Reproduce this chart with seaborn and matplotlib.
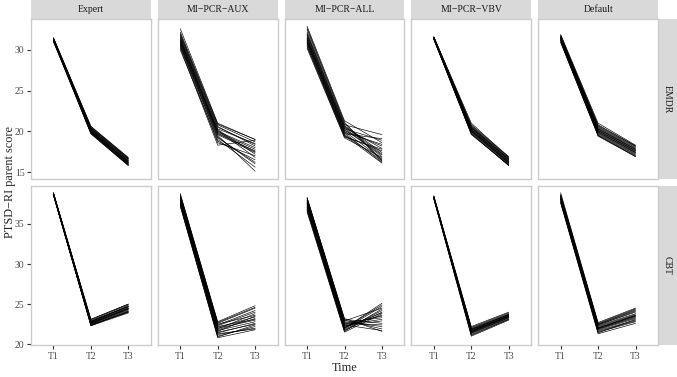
import numpy as np
import pandas as pd
import matplotlib
matplotlib.use("Agg")
import matplotlib.pyplot as plt
from matplotlib.patches import Rectangle
import seaborn as sns

methods = ["Expert", "MI\u2212PCR\u2212AUX", "MI\u2212PCR\u2212ALL", "MI\u2212PCR\u2212VBV", "Default"]
therapies = ["EMDR", "CBT"]
times = ["T1", "T2", "T3"]

# ---- EMDR ----
emdr_expert_t1 = [31.3,31.1,31.4,31.2,31.0,31.5,31.3,31.2,31.1,31.4,31.3,31.2,31.0,31.4,31.3,31.1,31.2,31.5,31.3,31.2]
emdr_expert_t2 = [20.1,19.8,20.4,20.0,19.7,20.6,20.2,19.9,20.3,20.5,20.0,19.8,20.2,20.4,19.9,20.1,20.3,20.6,19.7,20.0]
emdr_expert_t3 = [16.2,15.9,16.6,16.3,15.8,16.8,16.4,16.0,16.5,16.7,16.1,15.9,16.3,16.6,16.0,16.2,16.4,16.7,15.8,16.1]

emdr_aux_t1 = [31.0,30.5,32.6,31.8,30.2,31.5,30.8,31.2,30.0,32.0,31.4,30.6,31.9,30.9,31.1,30.4,32.2,31.6,30.7,31.3]
emdr_aux_t2 = [19.8,19.2,21.0,20.5,18.3,20.2,19.5,20.0,18.8,20.8,19.9,19.0,20.6,19.6,20.1,18.6,20.9,20.3,19.3,19.7]
emdr_aux_t3 = [17.5,16.2,19.0,18.4,18.9,17.2,15.1,18.0,16.5,18.7,17.8,15.6,18.2,17.4,16.8,17.0,19.0,18.5,16.0,17.6]

emdr_all_t1 = [31.5,30.8,32.9,32.2,30.2,31.8,31.0,31.3,30.5,32.5,31.6,30.7,32.0,31.1,31.4,30.4,32.7,31.9,30.9,31.2]
emdr_all_t2 = [20.2,19.6,21.3,20.8,19.2,20.5,19.8,20.1,19.4,21.0,20.3,19.5,20.7,19.9,20.4,19.3,21.1,20.6,19.7,20.0]
emdr_all_t3 = [17.1,16.4,18.6,19.6,16.8,17.9,16.2,18.2,17.6,16.5,18.9,16.1,17.4,18.4,16.9,17.8,16.3,17.2,19.1,16.6]

emdr_vbv_t1 = [31.4,31.5,31.3,31.6,31.4,31.5,31.3,31.4,31.6,31.5,31.4,31.3,31.5,31.4,31.6,31.5,31.3,31.4,31.5,31.4]
emdr_vbv_t2 = [20.0,20.4,19.7,20.8,20.1,20.5,19.6,20.2,21.0,20.6,19.9,19.8,20.3,20.0,20.7,20.4,19.7,20.1,20.5,20.2]
emdr_vbv_t3 = [16.1,16.5,15.8,16.9,16.2,16.6,15.9,16.3,16.8,16.7,16.0,15.9,16.4,16.1,16.8,16.5,15.8,16.2,16.6,16.3]

emdr_default_t1 = [31.5,31.2,31.9,30.9,31.4,31.7,31.0,31.6,31.3,31.8,31.1,31.5,31.4,31.6,31.2,31.7,31.3,31.5,31.0,31.4]
emdr_default_t2 = [20.1,19.7,21.0,19.4,20.3,20.6,19.5,20.4,19.9,20.8,19.6,20.2,20.0,20.5,19.8,20.7,19.9,20.3,19.5,20.1]
emdr_default_t3 = [17.6,17.2,18.3,16.9,17.8,18.1,17.0,17.9,17.4,18.2,17.1,17.7,17.5,18.0,17.3,18.2,17.4,17.8,16.9,17.6]

# ---- CBT ----
cbt_expert_t1 = [38.7,38.6,38.8,38.9,38.7,38.6,38.8,38.7,38.9,38.7,38.6,38.8,38.7,38.8,38.6,38.9,38.7,38.8,38.7,38.6]
cbt_expert_t2 = [22.6,22.3,22.9,23.1,22.7,22.4,22.8,22.5,23.0,22.6,22.3,22.9,22.7,22.8,22.4,23.1,22.5,22.8,22.6,22.4]
cbt_expert_t3 = [24.4,23.9,24.7,25.0,24.5,24.0,24.8,24.2,24.9,24.4,24.1,24.7,24.5,24.6,24.0,25.0,24.3,24.7,24.4,24.1]

cbt_aux_t1 = [38.0,37.5,38.8,38.3,37.2,38.5,37.8,38.1,37.4,38.6,38.2,37.6,38.4,37.9,38.0,37.3,38.7,38.3,37.7,38.1]
cbt_aux_t2 = [21.8,21.2,22.8,22.3,20.8,22.5,21.5,22.0,21.0,22.6,22.1,21.3,22.4,21.7,21.9,20.9,22.7,22.2,21.4,21.6]
cbt_aux_t3 = [23.2,22.0,24.8,24.0,21.8,23.6,22.5,23.0,22.2,24.5,23.4,21.9,24.2,22.8,23.8,22.4,24.6,23.1,22.6,23.5]

cbt_all_t1 = [37.6,36.8,38.3,38.0,36.5,37.9,37.2,37.5,36.9,38.2,37.7,37.0,38.1,37.3,37.6,36.7,38.3,37.8,37.1,37.4]
cbt_all_t2 = [22.4,21.8,23.2,22.9,21.5,22.6,22.0,22.3,21.7,23.0,22.5,21.9,22.8,22.1,22.4,21.6,23.1,22.7,22.0,22.2]
cbt_all_t3 = [23.1,24.2,21.6,24.5,23.8,22.4,25.1,22.9,24.0,21.9,23.5,24.7,22.2,23.9,21.7,24.4,22.6,23.3,24.9,23.6]

cbt_vbv_t1 = [38.3,38.2,38.4,38.5,38.3,38.1,38.4,38.3,38.2,38.5,38.3,38.4,38.2,38.3,38.4,38.1,38.3,38.2,38.4,38.3]
cbt_vbv_t2 = [21.6,21.3,21.9,22.2,21.5,21.0,22.0,21.7,21.4,22.1,21.6,21.8,21.2,21.5,21.9,21.1,21.7,21.4,21.8,21.6]
cbt_vbv_t3 = [23.5,23.2,23.7,24.0,23.4,23.0,23.8,23.5,23.3,23.9,23.5,23.6,23.1,23.4,23.7,23.1,23.6,23.3,23.7,23.5]

cbt_default_t1 = [38.2,37.8,38.6,38.9,38.1,37.6,38.5,38.3,37.9,38.7,38.2,38.4,37.7,38.0,38.5,37.8,38.3,38.1,38.6,38.2]
cbt_default_t2 = [22.0,21.6,22.4,22.7,21.9,21.3,22.5,22.1,21.7,22.6,22.0,22.3,21.5,21.8,22.4,21.4,22.2,21.9,22.5,22.0]
cbt_default_t3 = [23.5,22.9,24.0,24.5,23.4,22.6,24.2,23.6,23.0,24.4,23.5,23.8,22.8,23.2,24.1,23.1,23.7,23.3,24.3,23.6]

panels = {
    ("EMDR", methods[0]): (emdr_expert_t1, emdr_expert_t2, emdr_expert_t3),
    ("EMDR", methods[1]): (emdr_aux_t1, emdr_aux_t2, emdr_aux_t3),
    ("EMDR", methods[2]): (emdr_all_t1, emdr_all_t2, emdr_all_t3),
    ("EMDR", methods[3]): (emdr_vbv_t1, emdr_vbv_t2, emdr_vbv_t3),
    ("EMDR", methods[4]): (emdr_default_t1, emdr_default_t2, emdr_default_t3),
    ("CBT", methods[0]): (cbt_expert_t1, cbt_expert_t2, cbt_expert_t3),
    ("CBT", methods[1]): (cbt_aux_t1, cbt_aux_t2, cbt_aux_t3),
    ("CBT", methods[2]): (cbt_all_t1, cbt_all_t2, cbt_all_t3),
    ("CBT", methods[3]): (cbt_vbv_t1, cbt_vbv_t2, cbt_vbv_t3),
    ("CBT", methods[4]): (cbt_default_t1, cbt_default_t2, cbt_default_t3),
}

rows = []
for (ther, meth), series in panels.items():
    for tname, vals in zip(times, series):
        for i, v in enumerate(vals):
            rows.append({"therapy": ther, "method": meth, "time": tname,
                         "line": f"{ther}-{meth}-{i}", "score": v})
df = pd.DataFrame(rows)

sns.set_theme(style="white")
plt.rcParams["font.family"] = ["Liberation Serif", "DejaVu Serif"]

g = sns.relplot(data=df, x="time", y="score", units="line", estimator=None,
                row="therapy", col="method", kind="line", color="black",
                linewidth=0.45, row_order=therapies, col_order=methods,
                facet_kws=dict(sharey="row", sharex=True, margin_titles=False),
                height=2, aspect=1)
fig = g.figure
fig.set_size_inches(6.77, 3.77)
fig.set_dpi(100)
pw, ph = 120.0, 159.5
fig.subplots_adjust(left=31/677, right=658/677, top=1-19/377, bottom=1-345/377,
                    wspace=7/pw, hspace=7/ph)
g.set_titles("")
g.set_axis_labels("", "")

border = "#CCCCCC"
strip_fc = "#D9D9D9"
for r, ther in enumerate(therapies):
    for c, meth in enumerate(methods):
        ax = g.axes[r, c]
        ax.set_xlim(-0.6, 2.6)
        ax.set_xticks([0, 1, 2])
        for sp in ax.spines.values():
            sp.set_visible(True)
            sp.set_color(border)
            sp.set_linewidth(1.0)
        ax.tick_params(axis="both", which="both", length=2.7, width=0.8,
                       color="#333333", labelsize=7, labelcolor="#4D4D4D", pad=2,
                       bottom=True, left=True)
        if r == 0:
            ax.tick_params(axis="x", bottom=False, labelbottom=False)
            ax.add_patch(Rectangle((0, 1), 1, 19/ph, transform=ax.transAxes,
                                   facecolor=strip_fc, edgecolor="none", clip_on=False))
            ax.text(0.5, 1 + 9.5/ph, meth, transform=ax.transAxes, ha="center",
                    va="center", fontsize=7, color="#1A1A1A")
        else:
            ax.set_xticklabels(times)
        if c == 0:
            if r == 0:
                ax.set_yticks([15, 20, 25, 30])
            else:
                ax.set_yticks([20, 25, 30, 35])
        else:
            ax.tick_params(axis="y", left=False, labelleft=False)
        if c == len(methods) - 1:
            ax.add_patch(Rectangle((1, 0), 19/pw, 1, transform=ax.transAxes,
                                   facecolor=strip_fc, edgecolor="none", clip_on=False))
            ax.text(1 + 9.5/pw, 0.5, ther, transform=ax.transAxes, ha="center",
                    va="center", rotation=-90, fontsize=7, color="#1A1A1A")

fig.text(344.5/677, 1-368/377, "Time", ha="center", va="center", fontsize=8.8)
fig.text(10/677, 1-182/377, "PTSD\u2212RI parent score", ha="center", va="center",
         rotation=90, fontsize=8.8)

fig.savefig("out.png", dpi=100)
